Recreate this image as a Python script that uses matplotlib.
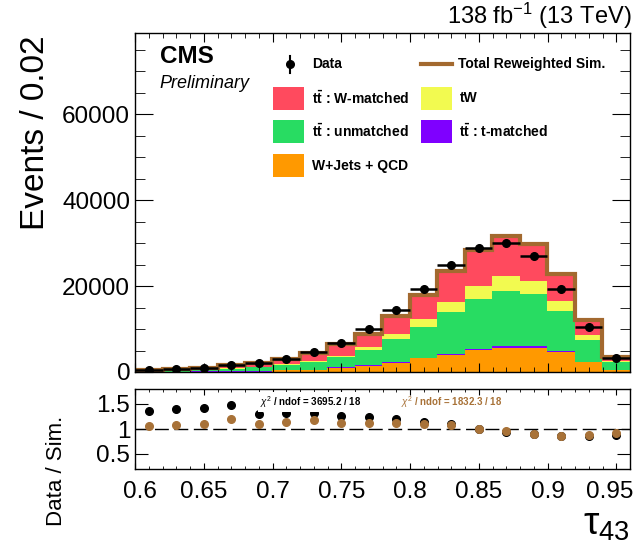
import numpy as np
import matplotlib
matplotlib.use('Agg')
import matplotlib.pyplot as plt
import matplotlib.transforms as mtransforms
from matplotlib.patches import Rectangle
from matplotlib.lines import Line2D

plt.rcParams['font.family'] = ['Liberation Sans', 'DejaVu Sans']
plt.rcParams['mathtext.fontset'] = 'custom'
plt.rcParams['mathtext.rm'] = 'Liberation Sans'
plt.rcParams['mathtext.it'] = 'Liberation Sans:italic'
plt.rcParams['mathtext.bf'] = 'Liberation Sans:bold'

# binning in tau_43
bin_edges = np.round(np.arange(0.60, 0.961, 0.02), 2)
bin_centers = 0.5*(bin_edges[1:] + bin_edges[:-1])

# stacked simulation (events / bin)
wjets_qcd = [20, 30, 40, 60, 80, 350, 500, 950, 1450, 2200, 3200, 4000, 5100, 5700, 5700, 4550, 2250, 450]
tt_tmatched = [20, 40, 80, 100, 120, 60, 60, 100, 100, 120, 150, 250, 350, 400, 400, 300, 100, 30]
tt_unmatched = [210, 280, 480, 640, 850, 1150, 1860, 2440, 3650, 5350, 7120, 9650, 11650, 12740, 11970, 9340, 5180, 1780]
tw = [40, 50, 80, 100, 150, 230, 140, 320, 610, 1100, 1860, 2310, 2990, 3580, 3190, 2320, 1070, 300]
tt_wmatched = [230, 230, 340, 730, 890, 1230, 1860, 2790, 3120, 4180, 5510, 7280, 8380, 9140, 8440, 6370, 3420, 930]

data = [480, 700, 1020, 1600, 2090, 3020, 4580, 6740, 9930, 14350, 19400, 24980, 28770, 30000, 26900, 19300, 10470, 3350]

# ratio panel
ratio_nominal = [1.36, 1.41, 1.43, 1.48, 1.31, 1.32, 1.32, 1.27, 1.24, 1.20, 1.15, 1.10, 1.01, 0.95, 0.91, 0.87, 0.87, 0.88]
ratio_reweighted = [1.07, 1.08, 1.11, 1.20, 1.10, 1.14, 1.18, 1.12, 1.12, 1.12, 1.10, 1.08, 1.01, 0.97, 0.91, 0.87, 0.88, 0.93]

x_ticklabels = ['0.6', '0.65', '0.7', '0.75', '0.8', '0.85', '0.9', '0.95']

brown = '#A3692F'
brown_pts = '#A87238'
c_red = '#FF4A5E'
c_green = '#28DC62'
c_yellow = '#F2FA50'
c_purple = '#7F00FF'
c_orange = '#FF9900'

fig = plt.figure(figsize=(6.37, 5.45), dpi=100)
W, H = 637., 545.
ax = fig.add_axes([135/W, 1-372/H, 495/W, (372-32.7)/H])
rax = fig.add_axes([135/W, 1-469/H, 495/W, 80/H])

# stack: orange, purple, green, yellow, red
layers = [(wjets_qcd, c_orange), (tt_tmatched, c_purple), (tt_unmatched, c_green),
          (tw, c_yellow), (tt_wmatched, c_red)]
bottom = np.zeros(len(bin_centers))
for vals, col in layers:
  vals = np.asarray(vals, dtype=float)
  ax.stairs(bottom + vals, bin_edges, baseline=bottom.copy(), fill=True, color=col, lw=0, zorder=1)
  bottom = bottom + vals
total = bottom

ax.stairs(total, bin_edges, baseline=None, color=brown, lw=3, zorder=2)
ax.errorbar(bin_centers, data, xerr=0.01, fmt='o', color='black', ms=5.5, elinewidth=1.8,
            capsize=0, zorder=3)

ax.set_xlim(0.6, 0.96)
ax.set_ylim(0, 79000)
ax.set_xticks(np.arange(0.6, 0.951, 0.05))
ax.set_xticks(np.arange(0.6, 0.961, 0.01), minor=True)
ax.set_yticks([0, 20000, 40000, 60000])
ax.set_yticks(np.arange(0, 79000, 5000), minor=True)
ax.tick_params(which='both', direction='in', top=True, right=True, labelbottom=False,
               labelsize=17.5, pad=3.5)
ax.tick_params(axis='y', which='major', length=13)
ax.tick_params(axis='y', which='minor', length=7)
ax.tick_params(axis='x', which='major', length=6.5)
ax.tick_params(axis='x', which='minor', length=3.3)

# ratio
rax.axhline(1, color='black', lw=1, dashes=(10, 4), zorder=1)
rax.plot(bin_centers, ratio_nominal, 'o', color='black', ms=5.5, zorder=2)
rax.plot(bin_centers, ratio_reweighted, 'o', color=brown_pts, ms=5.5, zorder=3)
rax.set_xlim(0.6, 0.96)
rax.set_ylim(0.2, 1.8)
rax.set_xticks(np.arange(0.6, 0.951, 0.05))
rax.set_xticklabels(x_ticklabels)
rax.set_xticks(np.arange(0.6, 0.961, 0.01), minor=True)
rax.set_yticks([0.5, 1, 1.5])
rax.set_yticklabels(['0.5', '1', '1.5'])
rax.tick_params(which='both', direction='in', top=True, right=True, labelsize=17.5, pad=3.5)
rax.tick_params(axis='x', which='major', length=4.5, pad=9)
rax.tick_params(axis='x', which='minor', length=2.5)
rax.tick_params(axis='y', which='major', length=9.5)

# ROOT nudges the outermost labels inside the frame
xlabels = rax.get_xticklabels()
xlabels[0].set_transform(xlabels[0].get_transform() +
                         mtransforms.ScaledTranslation(5/100., 0, fig.dpi_scale_trans))
xlabels[-1].set_transform(xlabels[-1].get_transform() +
                          mtransforms.ScaledTranslation(-7/100., 0, fig.dpi_scale_trans))

rax.text(0.2525, 0.84, r'$\chi^{2}$ / ndof = 3695.2 / 18', transform=rax.transAxes, fontsize=7,
         fontweight='bold', color='black', va='center', ha='left', zorder=4,
         bbox=dict(facecolor='white', edgecolor='none', pad=1.5))
rax.text(0.537, 0.84, r'$\chi^{2}$ / ndof = 1832.3 / 18', transform=rax.transAxes, fontsize=7,
         fontweight='bold', color=brown_pts, va='center', ha='left', zorder=4)

for a in (ax, rax):
  for s in a.spines.values():
    s.set_linewidth(1)

# legend (drawn by hand, ROOT style)
def axx(px):
  return (px - 135)/495.
def axy(py):
  return (372 - py)/339.3

ax.add_line(Line2D([axx(290), axx(290)], [axy(56), axy(73)], color='black', lw=1.5,
                   transform=ax.transAxes, zorder=5))
ax.add_line(Line2D([axx(290)], [axy(64.3)], marker='o', ms=5.5, color='black',
                   transform=ax.transAxes, zorder=5))
ax.text(axx(311.7), axy(64.3), 'Data', transform=ax.transAxes, fontsize=10,
        fontweight='bold', va='center', ha='left')
ax.add_line(Line2D([axx(421), axx(451.7)], [axy(64.3), axy(64.3)], color=brown, lw=3,
                   transform=ax.transAxes, zorder=5))
ax.text(axx(458.3), axy(64.3), 'Total Reweighted Sim.', transform=ax.transAxes, fontsize=10,
        fontweight='bold', va='center', ha='left')

leg_boxes = [
  (273.3, 98.3, c_red, r'$\mathbf{t\bar{t}}$ : W-matched'),
  (273.3, 131.7, c_green, r'$\mathbf{t\bar{t}}$ : unmatched'),
  (273.3, 165.5, c_orange, 'W+Jets + QCD'),
  (421.0, 98.3, c_yellow, 'tW'),
  (421.0, 131.7, c_purple, r'$\mathbf{t\bar{t}}$ : t-matched'),
]
for bx, by, col, lab in leg_boxes:
  ax.add_patch(Rectangle((axx(bx), axy(by + 11.6)), 31/495., 23.2/339.3, facecolor=col,
                         edgecolor='none', transform=ax.transAxes, zorder=5))
  ax.text(axx(bx + 38.4), axy(by), lab, transform=ax.transAxes, fontsize=10,
          fontweight='bold', va='center', ha='left')

ax.text(axx(160), axy(56.5), 'CMS', transform=ax.transAxes, fontsize=17.5,
        fontweight='bold', va='center', ha='left')
ax.text(axx(159), axy(83.3), 'Preliminary', transform=ax.transAxes, fontsize=13,
        style='italic', va='center', ha='left')

fig.text(632/W, 1-16/H, r'138 fb$^{-1}$ (13 TeV)', fontsize=17, ha='right', va='center')
fig.text(36/W, 1-35/H, 'Events / 0.02', fontsize=24, rotation=90, ha='center', va='top')
fig.text(57/W, 1-471/H, 'Data / Sim.', fontsize=16, rotation=90, ha='center', va='center')
fig.text(630/W, 1-525/H, r'$\mathrm{\tau}_{43}$', fontsize=28, ha='right', va='center')

fig.savefig('out.png', dpi=100)
